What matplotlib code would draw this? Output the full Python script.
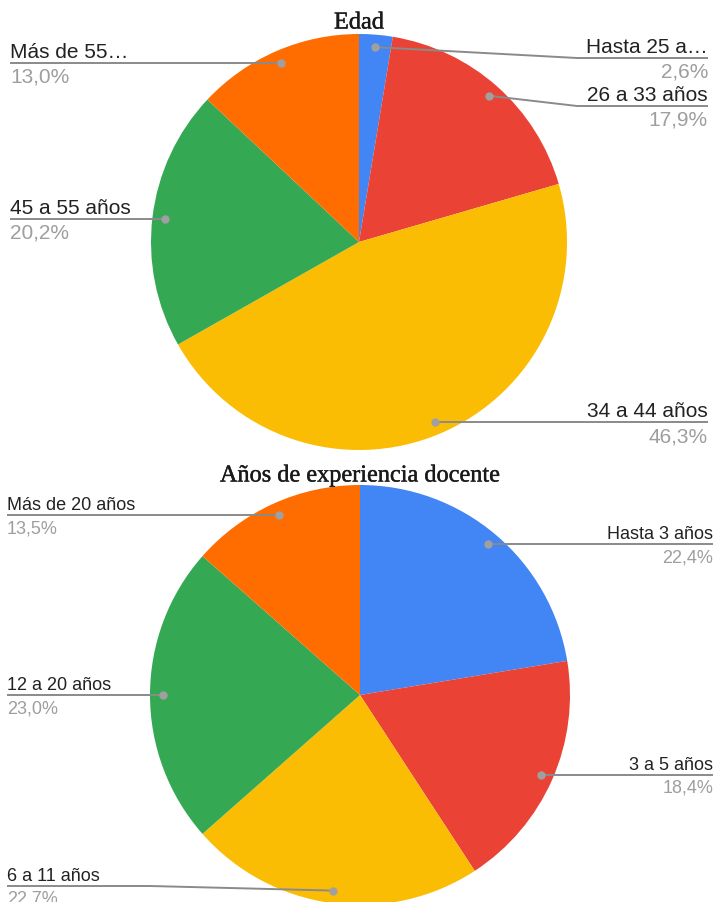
import numpy as np
import matplotlib
matplotlib.use("Agg")
import matplotlib.pyplot as plt
import matplotlib.patheffects as pe

W, H = 715, 902

colors = ["#4285F4", "#EA4335", "#FBBC04", "#34A853", "#FF6D01"]

edad_title = "Edad"
edad_labels = ["Hasta 25 a…", "26 a 33 años", "34 a 44 años", "45 a 55 años", "Más de 55…"]
edad_values = [2.6, 17.9, 46.3, 20.2, 13.0]

exp_title = "Años de experiencia docente"
exp_labels = ["Hasta 3 años", "3 a 5 años", "6 a 11 años", "12 a 20 años", "Más de 20 años"]
exp_values = [22.4, 18.4, 22.7, 23.0, 13.5]


def Y(py):
    return H - py


fig = plt.figure(figsize=(W / 100, H / 100), dpi=100)
ax = fig.add_axes([0, 0, 1, 1])


def draw_pie(values, labels, cx, cy, r, title, ty, layout, fs):
    ax.pie(values, colors=colors, startangle=90, counterclock=False,
           center=(cx, Y(cy)), radius=r, wedgeprops=dict(linewidth=0))
    ax.text(cx, Y(ty), title, ha="center", va="center", fontsize=17.5,
            family="Liberation Serif", color="#1a1a1a",
            path_effects=[pe.withStroke(linewidth=0.3, foreground="#1a1a1a")])
    cum = np.cumsum([0] + list(values))
    tot = sum(values)
    for i, (v, lab) in enumerate(zip(values, labels)):
        mid = (cum[i] + v / 2) / tot * 2 * np.pi
        dx = 0.94 * r * np.sin(mid)
        dy = 0.94 * r * np.cos(mid)
        px, py = cx + dx, Y(cy) + dy
        side, ly, ex, elbow = layout[i]
        if elbow is None:
            ly_d = py
            xs, ys = [px, ex], [py, py]
        else:
            ly_d = Y(ly)
            xs, ys = [px, elbow, ex], [py, ly_d, ly_d]
        ax.plot(xs, ys, color="#8a8a8a", lw=1.4, solid_capstyle="butt", zorder=3)
        ax.plot(px, py, "o", ms=5, color="#a0a0a0", zorder=4)
        ha = "left" if side == "l" else "right"
        pct = f"{v:.1f}".replace(".", ",") + "%"
        ax.text(ex, ly_d + 1, lab, ha=ha, va="bottom", fontsize=fs,
                family="Liberation Sans", color="#222222")
        ax.text(ex, ly_d - 5, pct, ha=ha, va="top", fontsize=fs,
                family="Liberation Sans", color="#9e9e9e")


# side, line y, line end x, elbow x
edad_layout = [
    ("r", 58, 708, 577),
    ("r", 106, 708, 577),
    ("r", None, 708, None),
    ("l", None, 10, None),
    ("l", None, 10, None),
]
draw_pie(edad_values, edad_labels, 359, 242, 208, edad_title, 23, edad_layout, 15)

exp_layout = [
    ("r", None, 713, None),
    ("r", None, 713, None),
    ("l", 886, 7, 150),
    ("l", None, 7, None),
    ("l", None, 7, None),
]
draw_pie(exp_values, exp_labels, 360, 695, 210, exp_title, 476, exp_layout, 13)

ax.set_xlim(0, W)
ax.set_ylim(0, H)
ax.set_aspect("auto")
ax.axis("off")

fig.savefig("out.png", dpi=100, facecolor="white")
